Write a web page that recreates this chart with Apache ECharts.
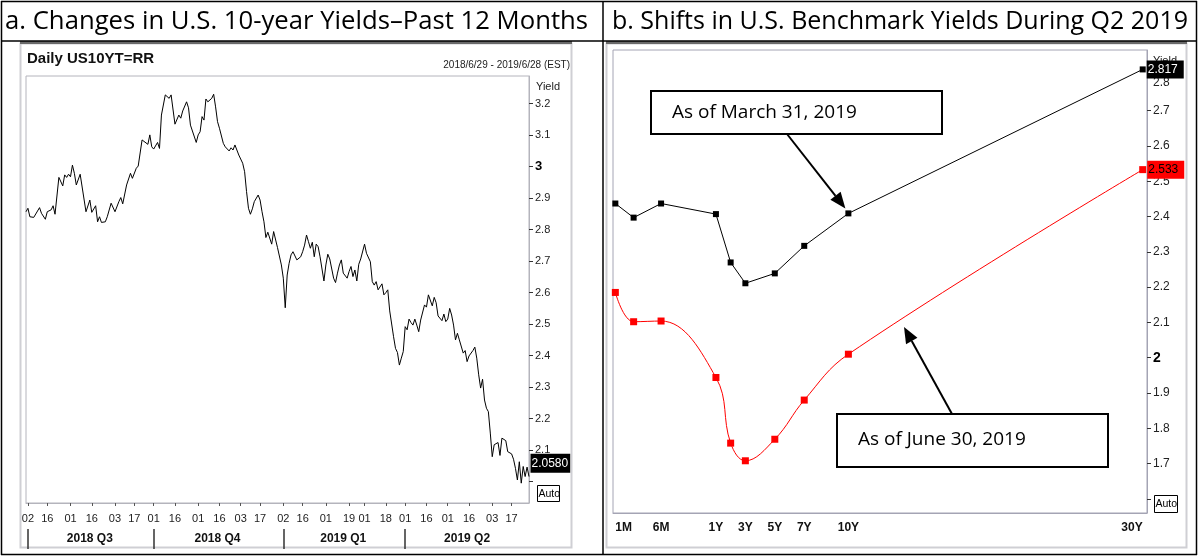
<!DOCTYPE html>
<html><head><meta charset="utf-8">
<script src="https://cdn.jsdelivr.net/npm/echarts@6/dist/echarts.min.js"></script>
<style>html,body{margin:0;padding:0;background:#fff}#c{width:1198px;height:556px}</style>
</head><body><div id="c"></div>
<script>
// ---------------- data: panel a (daily US 10Y yield, weekday categories) ----------------
const startDate = '2018-06-29';
const endDate = '2019-06-28';
const tickDates = ['2018-07-02','2018-07-16','2018-08-01','2018-08-16','2018-09-03','2018-09-17',
  '2018-10-01','2018-10-16','2018-11-01','2018-11-16','2018-12-03','2018-12-17',
  '2019-01-02','2019-01-16','2019-02-01','2019-02-19','2019-03-01','2019-03-18',
  '2019-04-01','2019-04-16','2019-05-01','2019-05-16','2019-06-03','2019-06-17'];
const quarterStarts = ['2018-07-02','2018-10-01','2019-01-02','2019-04-01'];
const quarterNames = ['2018 Q3','2018 Q4','2019 Q1','2019 Q2'];
const yields10y = [
  2.857,2.868,2.841,null,2.839,2.833,null,2.870,2.852,2.852,
  2.833,2.857,null,2.863,2.876,2.849,null,2.966,null,2.939,
  2.974,2.966,2.976,2.968,3.005,2.979,2.942,null,2.976,2.971,
  null,2.857,null,2.894,2.855,null,2.876,2.825,2.841,2.823,
  null,2.825,2.841,null,2.884,2.881,2.857,null,2.889,2.902,
  2.882,null,2.942,2.942,2.979,2.963,null,2.995,3.002,null,
  3.085,3.079,null,3.071,3.101,3.063,3.056,3.058,3.077,3.058,
  3.164,null,3.228,null,3.217,3.228,null,3.135,null,3.164,
  3.154,3.177,3.175,3.206,3.187,3.132,3.135,null,3.077,3.101,
  3.111,3.159,3.148,3.215,3.206,null,3.217,3.230,3.190,3.143,
  3.122,3.117,3.074,3.063,null,3.050,3.060,3.053,3.069,3.053,
  3.037,null,3.011,2.984,2.921,2.868,2.849,2.866,2.889,null,
  2.910,2.894,2.857,2.825,2.775,2.792,2.789,2.754,2.794,2.797,
  2.743,2.741,2.688,2.646,2.552,2.656,2.693,2.720,2.730,2.730,
  2.704,2.709,2.714,2.730,2.751,2.783,2.762,2.741,2.760,2.714,
  2.754,2.746,2.714,2.709,2.637,2.688,2.722,2.707,2.704,2.646,
  2.632,2.662,2.688,2.704,2.662,2.667,2.646,2.667,2.683,2.651,
  2.672,2.637,2.690,2.707,null,2.754,2.725,2.723,2.698,2.635,
  2.624,2.635,2.609,2.611,2.628,2.593,2.600,2.609,2.542,2.540,
  2.460,2.423,2.410,2.370,2.392,2.413,2.492,2.482,2.516,2.505,
  2.497,2.516,2.497,2.476,2.513,null,2.561,2.554,2.593,2.591,
  2.558,2.585,2.568,2.526,2.532,2.511,2.532,2.508,2.516,2.550,
  2.529,2.497,2.450,2.471,2.450,2.455,2.408,2.416,2.381,2.399,
  2.399,2.416,2.427,2.392,2.339,2.297,2.325,2.259,2.233,2.222,
  2.154,2.079,2.117,2.122,2.124,2.083,2.138,2.138,2.130,2.095,
  2.090,2.088,2.071,2.042,2.005,2.063,1.995,2.048,2.016,2.046,
  2.016];
const lastQuote = 2.0580;
const yTicksA = [2.1,2.2,2.3,2.4,2.5,2.6,2.7,2.8,2.9,3.0,3.1,3.2];

// ---------------- data: panel b (Treasury curve) ----------------
const maturities    = ['1M','3M','6M','1Y','2Y','3Y','5Y','7Y','10Y','30Y'];
const maturityYears = [1/12, 0.25, 0.5, 1, 2, 3, 5, 7, 10, 30];
const curveMar31 = [2.437,2.397,2.437,2.407,2.270,2.211,2.239,2.317,2.409,2.817];
const curveJun30 = [2.185,2.102,2.104,1.944,1.758,1.708,1.769,1.880,2.010,2.533];
const maturityAxisLabels = ['1M','6M','1Y','3Y','5Y','7Y','10Y','30Y'];

// ---------------- helpers ----------------
const NARROW = '"Liberation Sans",Arial,sans-serif';
const HEAD = '"Open Sans","Noto Sans",sans-serif';
function weekdays(a, b) {
  const out = []; const d = new Date(a + 'T00:00:00Z'); const e = new Date(b + 'T00:00:00Z');
  while (d <= e) { const w = d.getUTCDay(); if (w > 0 && w < 6) out.push(d.toISOString().slice(0, 10)); d.setUTCDate(d.getUTCDate() + 1); }
  return out;
}
// maturity scale of the source chart: linear within the first year, compressed beyond it
const longEndRatio = 0.1341;
const matPos = m => m <= 1 ? m : 1 + (m - 1) * longEndRatio;

const dates = weekdays(startDate, endDate);
const idxOf = d => dates.indexOf(d);
const tickIdx = new Set(tickDates.map(idxOf));
const qStartIdx = new Set(quarterStarts.map(idxOf));
const qMid = {};
quarterStarts.forEach((d, i) => {
  const a = idxOf(d), b = i < quarterStarts.length - 1 ? idxOf(quarterStarts[i + 1]) : dates.length;
  qMid[Math.floor((a + b) / 2)] = quarterNames[i];
});
const near = (a, b) => Math.abs(a - b) < 1e-6;

function curveData(vals, labelBg, labelColor) {
  return maturityYears.map((m, i) => {
    const pt = { value: [matPos(m), vals[i]] };
    if (i === vals.length - 1) {
      pt.label = { show: true, position: 'right', distance: 1, formatter: p => p.value[1].toFixed(3),
        backgroundColor: labelBg, color: labelColor, fontFamily: NARROW, fontSize: 12,
        padding: [2, 6, 1, 1], lineHeight: 15 };
    }
    return pt;
  });
}

const chart = echarts.init(document.getElementById('c'));
const axisGrayA = '#b4b4bc', axisGrayB = '#a4a4b4';

const option = {
  animation: false,
  backgroundColor: '#fff',
  grid: [
    { left: 26, top: 76, width: 503, height: 427, show: true, borderColor: axisGrayA, borderWidth: 1, backgroundColor: 'transparent' },
    { left: 613, top: 50, width: 534, height: 463, show: true, borderColor: axisGrayB, borderWidth: 1, backgroundColor: 'transparent' }
  ],
  xAxis: [
    { type: 'category', gridIndex: 0, data: dates, boundaryGap: false,
      axisLine: { lineStyle: { color: axisGrayA } },
      axisTick: { interval: i => tickIdx.has(i), length: 3, lineStyle: { color: '#555' } },
      axisLabel: { interval: i => tickIdx.has(i), formatter: v => v.slice(8), margin: 10,
        fontFamily: NARROW, fontSize: 11, color: '#222' },
      splitLine: { show: false } },
    { type: 'category', gridIndex: 0, data: dates, boundaryGap: false, position: 'bottom', offset: 26,
      axisLine: { show: false },
      axisTick: { show: true, interval: i => qStartIdx.has(i), length: 20, lineStyle: { color: '#333', width: 1.5 } },
      axisLabel: { interval: i => (i in qMid), formatter: (v, i) => qMid[i] || '', margin: 4,
        fontFamily: NARROW, fontSize: 12, fontWeight: 'bold', color: '#111' },
      splitLine: { show: false } },
    { type: 'value', gridIndex: 1, min: 0.062, max: 4.928,
      axisLine: { lineStyle: { color: axisGrayB } },
      axisTick: { show: false },
      splitLine: { show: false },
      axisLabel: {
        customValues: maturityAxisLabels.map(l => matPos(maturityYears[maturities.indexOf(l)])),
        formatter: v => { const l = maturityAxisLabels.find(l => near(matPos(maturityYears[maturities.indexOf(l)]), v)); return l || ''; },
        alignMinLabel: 'left', alignMaxLabel: 'right',
        margin: 9, fontFamily: NARROW, fontSize: 12, fontWeight: 'bold', color: '#111' } }
  ],
  yAxis: [
    { type: 'value', gridIndex: 0, position: 'right', min: 1.932, max: 3.288, splitNumber: 13,
      axisLine: { show: true, lineStyle: { color: axisGrayA } },
      axisTick: { show: true, length: 4, lineStyle: { color: '#333' } },
      splitLine: { show: false },
      axisLabel: { margin: 6, showMinLabel: false, showMaxLabel: false, fontFamily: NARROW, fontSize: 11, color: '#222',
        formatter: v => near(v, 3) ? '{b|3}' : (yTicksA.some(t => near(t, v)) ? v.toFixed(1) : ''),
        rich: { b: { fontFamily: NARROW, fontSize: 13, fontWeight: 'bold', color: '#000' } } } },
    { type: 'value', gridIndex: 1, position: 'right', min: 1.56, max: 2.872, splitNumber: 13,
      axisLine: { show: true, lineStyle: { color: axisGrayB } },
      axisTick: { show: true, length: 4, lineStyle: { color: '#333' } },
      splitLine: { show: false },
      axisLabel: { margin: 6, showMinLabel: false, showMaxLabel: false, fontFamily: NARROW, fontSize: 12, color: '#222',
        formatter: v => near(v, 2) ? '{b|2}' : (near(v, 1.6) ? '' : (near(v, 2.8) ? '{d|2.8}' : v.toFixed(1))),
        rich: { b: { fontFamily: NARROW, fontSize: 14, fontWeight: 'bold', color: '#000' },
                d: { fontFamily: NARROW, fontSize: 12, color: '#222', padding: [14, 0, 0, 0] } } } }
  ],
  series: [
    { type: 'line', xAxisIndex: 0, yAxisIndex: 0, data: yields10y, connectNulls: true, symbol: 'none',
      lineStyle: { color: '#000', width: 1 }, z: 3,
      markPoint: { symbol: 'rect', symbolSize: 1, itemStyle: { color: 'rgba(0,0,0,0)' },
        data: [{ coord: [dates[dates.length - 1], lastQuote], value: lastQuote }],
        label: { show: true, position: 'right', distance: 1, formatter: () => lastQuote.toFixed(4),
          backgroundColor: '#000', color: '#fff', fontFamily: NARROW, fontSize: 12, padding: [2, 2, 2, 1], lineHeight: 15 } } },
    { type: 'line', xAxisIndex: 2, yAxisIndex: 1, data: curveData(curveMar31, '#000', '#fff'),
      symbol: 'rect', symbolSize: 6, itemStyle: { color: '#000' }, lineStyle: { color: '#000', width: 1 }, z: 4 },
    { type: 'line', xAxisIndex: 2, yAxisIndex: 1, data: curveData(curveJun30, '#ff0000', '#000'), smooth: 0.4,
      symbol: 'rect', symbolSize: 7, itemStyle: { color: '#ff0000' }, lineStyle: { color: '#ff0000', width: 1 }, z: 4 }
  ]
};
chart.setOption(option);

// ---------------- layout graphics (table, frames, captions, annotations) ----------------
function arrow(from, to, headLen, headW) {
  const dx = to[0] - from[0], dy = to[1] - from[1], L = Math.hypot(dx, dy), ux = dx / L, uy = dy / L;
  const bx = to[0] - ux * headLen, by = to[1] - uy * headLen;
  return [
    { type: 'line', z: 20, shape: { x1: from[0], y1: from[1], x2: bx, y2: by }, style: { stroke: '#000', lineWidth: 2 } },
    { type: 'polygon', z: 20, shape: { points: [to, [bx - uy * headW / 2, by + ux * headW / 2], [bx + uy * headW / 2, by - ux * headW / 2]] }, style: { fill: '#000' } }
  ];
}
const p10 = chart.convertToPixel({ xAxisIndex: 2, yAxisIndex: 1 }, [matPos(10), curveMar31[8]]);
const tipA = [p10[0] - 3, p10[1] - 5];
const tipB = [904, 327];

const g = [];
const tl = (x1, y1, x2, y2, w) => g.push({ type: 'line', z: 30, shape: { x1, y1, x2, y2 }, style: { stroke: '#000', lineWidth: w || 1.5 } });
// table borders
tl(1, 1.5, 1197, 1.5); tl(1, 41, 1197, 41); tl(1, 554.5, 1197, 554.5);
tl(1.5, 1, 1.5, 555); tl(603, 1, 603, 555); tl(1196.5, 1, 1196.5, 555);
// header captions
g.push({ type: 'text', z: 30, style: { text: 'a. Changes in U.S. 10-year Yields\u2013Past 12 Months', x: 5, y: 22, font: '25.7px ' + HEAD, fill: '#000', textVerticalAlign: 'middle' } });
g.push({ type: 'text', z: 30, style: { text: 'b. Shifts in U.S. Benchmark Yields During Q2 2019', x: 612, y: 22, font: '25px ' + HEAD, fill: '#000', textVerticalAlign: 'middle' } });
// chart frames
[[20, 572], [606, 1187]].forEach(([a, b]) => {
  g.push({ type: 'rect', z: -1, shape: { x: a + 0.5, y: 43.5, width: b - a - 1, height: 504 }, style: { fill: '#fff', stroke: '#cfcfd4', lineWidth: 2 } });
  g.push({ type: 'rect', z: 1, shape: { x: a, y: 41, width: b - a, height: 3 }, style: { fill: '#6a6a6a' } });
});
// panel a captions
g.push({ type: 'text', z: 5, style: { text: 'Daily US10YT=RR', x: 27, y: 59, font: 'bold 15px ' + NARROW, fill: '#111', textVerticalAlign: 'middle' } });
g.push({ type: 'text', z: 5, style: { text: '2018/6/29 - 2019/6/28 (EST)', x: 570, y: 65, font: '10px ' + NARROW, fill: '#222', textAlign: 'right', textVerticalAlign: 'middle' } });
g.push({ type: 'text', z: 1, style: { text: 'Yield', x: 536, y: 87, font: '11px ' + NARROW, fill: '#222', textVerticalAlign: 'middle' } });
g.push({ type: 'text', z: 1, style: { text: 'Yield', x: 1153, y: 61, font: '11px ' + NARROW, fill: '#222', textVerticalAlign: 'middle' } });
// Auto boxes
[[537, 485, 22, 16], [1154, 495, 23, 17]].forEach(([x, y, w, h]) => {
  g.push({ type: 'rect', z: 6, shape: { x: x + 0.5, y: y + 0.5, width: w, height: h }, style: { fill: '#fff', stroke: '#000', lineWidth: 1 } });
  g.push({ type: 'text', z: 7, style: { text: 'Auto', x: x + 1.5, y: y + h / 2 + 1, font: '10.5px ' + NARROW, fill: '#000', textVerticalAlign: 'middle' } });
});
// annotations
g.push({ type: 'rect', z: 20, shape: { x: 651, y: 91, width: 291, height: 43 }, style: { fill: '#fff', stroke: '#000', lineWidth: 2 } });
g.push({ type: 'text', z: 21, style: { text: 'As of March 31, 2019', x: 672, y: 113, font: '19px ' + HEAD, fill: '#000', textVerticalAlign: 'middle' } });
g.push(...arrow([787, 134], tipA, 16, 13));
g.push({ type: 'rect', z: 20, shape: { x: 837, y: 414, width: 271, height: 53 }, style: { fill: '#fff', stroke: '#000', lineWidth: 2 } });
g.push({ type: 'text', z: 21, style: { text: 'As of June 30, 2019', x: 858, y: 440, font: '19px ' + HEAD, fill: '#000', textVerticalAlign: 'middle' } });
g.push(...arrow([952, 414], tipB, 16, 13));

chart.setOption({ graphic: g });
</script></body></html>
